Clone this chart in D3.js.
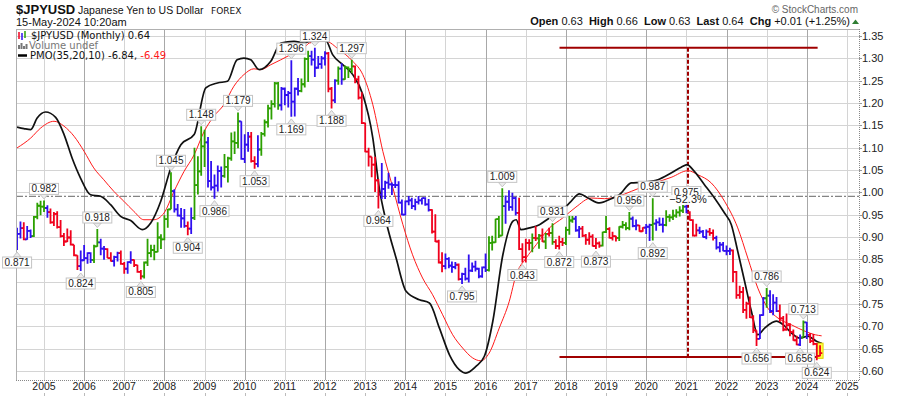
<!DOCTYPE html>
<html lang="en">
<head>
<meta charset="utf-8">
<title>$JPYUSD Monthly</title>
<script src="https://d3js.org/d3.v7.min.js"></script>
<style>
  body { margin: 0; background: #fff; }
  svg { display: block; font-family: "Liberation Sans", Arial, sans-serif; }
  .grid { stroke: #d4d4d4; stroke-width: 1; shape-rendering: crispEdges; }
  .grid.major { stroke: #a8a8a8; }
  .axisText { font-size: 11px; fill: #222; }
  .legend { font-family: "DejaVu Sans", sans-serif; font-size: 10px; }
</style>
</head>
<body>
<script>
// ---- data (JPYUSD, monthly bars from May 2004 to May 2024) ----
var firstMonth = new Date(2004, 4, 1);
var firstOpen = 0.905;

var highs = [
  0.921, 0.935, 0.933, 0.925, 0.917, 0.947, 0.977, 0.981,                                  // 2004 May-Dec
  0.982, 0.971, 0.964, 0.956, 0.958, 0.938, 0.909, 0.919, 0.915, 0.883, 0.859, 0.870,     // 2005
  0.882, 0.866, 0.866, 0.883, 0.918, 0.896, 0.880, 0.875, 0.866, 0.858, 0.867, 0.870,     // 2006
  0.844, 0.846, 0.868, 0.850, 0.838, 0.826, 0.845, 0.896, 0.883, 0.883, 0.933, 0.906,     // 2007
  0.949, 0.963, 1.045, 1.007, 0.974, 0.965, 0.963, 0.935, 0.966, 1.100, 1.081, 1.148,     // 2008
  1.140, 1.124, 1.070, 1.040, 1.060, 1.058, 1.086, 1.080, 1.134, 1.136, 1.179, 1.159,     // 2009
  1.130, 1.135, 1.135, 1.081, 1.128, 1.135, 1.163, 1.196, 1.206, 1.247, 1.247, 1.236,     // 2010
  1.235, 1.227, 1.296, 1.235, 1.256, 1.255, 1.302, 1.317, 1.317, 1.324, 1.305, 1.305,     // 2011
  1.316, 1.314, 1.236, 1.253, 1.282, 1.289, 1.284, 1.282, 1.297, 1.284, 1.261, 1.224,     // 2012
  1.156, 1.100, 1.080, 1.080, 1.030, 1.066, 1.026, 1.044, 1.022, 1.035, 1.025, 0.984,     // 2013
  0.982, 0.992, 0.988, 0.986, 0.992, 0.988, 0.989, 0.985, 0.962, 0.951, 0.894, 0.866,     // 2014
  0.863, 0.855, 0.845, 0.844, 0.841, 0.820, 0.831, 0.861, 0.843, 0.847, 0.831, 0.834,     // 2015
  0.863, 0.902, 0.903, 0.941, 0.947, 1.009, 0.993, 1.005, 0.999, 0.990, 0.988, 0.886,     // 2016
  0.896, 0.895, 0.908, 0.925, 0.907, 0.919, 0.909, 0.921, 0.931, 0.895, 0.903, 0.898,     // 2017
  0.923, 0.947, 0.947, 0.947, 0.925, 0.925, 0.907, 0.911, 0.906, 0.898, 0.890, 0.912,     // 2018
  0.947, 0.922, 0.912, 0.903, 0.924, 0.936, 0.933, 0.956, 0.946, 0.939, 0.927, 0.922,     // 2019
  0.929, 0.930, 0.987, 0.940, 0.944, 0.943, 0.960, 0.951, 0.961, 0.962, 0.969, 0.972,     // 2020
  0.975, 0.958, 0.940, 0.930, 0.923, 0.916, 0.917, 0.920, 0.917, 0.903, 0.889, 0.889,     // 2021
  0.881, 0.876, 0.872, 0.824, 0.791, 0.788, 0.755, 0.767, 0.725, 0.691, 0.727, 0.766,     // 2022
  0.786, 0.781, 0.772, 0.766, 0.749, 0.723, 0.729, 0.707, 0.693, 0.679, 0.682, 0.713,     // 2023
  0.710, 0.685, 0.683, 0.663, 0.658                                                        // 2024 Jan-May
];
var lows = [
  0.871, 0.897, 0.893, 0.894, 0.898, 0.900, 0.940, 0.949,
  0.956, 0.943, 0.930, 0.925, 0.919, 0.899, 0.880, 0.889, 0.881, 0.857, 0.826, 0.824,
  0.847, 0.840, 0.842, 0.842, 0.878, 0.859, 0.849, 0.853, 0.845, 0.834, 0.845, 0.838,
  0.818, 0.818, 0.840, 0.833, 0.820, 0.805, 0.807, 0.835, 0.855, 0.848, 0.866, 0.873,
  0.893, 0.921, 0.962, 0.955, 0.946, 0.921, 0.921, 0.904, 0.907, 0.938, 0.995, 1.037,
  1.057, 1.011, 1.004, 0.986, 1.002, 1.011, 1.033, 1.022, 1.071, 1.086, 1.099, 1.073,
  1.066, 1.091, 1.067, 1.053, 1.056, 1.082, 1.125, 1.145, 1.163, 1.190, 1.185, 1.183,
  1.195, 1.190, 1.169, 1.170, 1.217, 1.224, 1.235, 1.247, 1.284, 1.258, 1.277, 1.277,
  1.284, 1.224, 1.188, 1.200, 1.241, 1.241, 1.252, 1.256, 1.267, 1.244, 1.208, 1.153,
  1.090, 1.058, 1.034, 1.001, 0.964, 0.985, 0.985, 1.008, 0.994, 1.010, 0.975, 0.949,
  0.949, 0.971, 0.963, 0.960, 0.973, 0.973, 0.970, 0.957, 0.908, 0.889, 0.841, 0.821,
  0.828, 0.830, 0.820, 0.828, 0.803, 0.795, 0.803, 0.798, 0.822, 0.823, 0.808, 0.809,
  0.822, 0.823, 0.870, 0.887, 0.898, 0.903, 0.930, 0.959, 0.959, 0.948, 0.871, 0.843,
  0.843, 0.870, 0.866, 0.891, 0.874, 0.889, 0.873, 0.901, 0.883, 0.873, 0.872, 0.880,
  0.882, 0.905, 0.932, 0.912, 0.898, 0.900, 0.883, 0.883, 0.879, 0.873, 0.876, 0.879,
  0.909, 0.897, 0.892, 0.890, 0.891, 0.919, 0.915, 0.915, 0.922, 0.915, 0.912, 0.912,
  0.907, 0.891, 0.892, 0.914, 0.925, 0.910, 0.924, 0.934, 0.938, 0.943, 0.946, 0.954,
  0.953, 0.937, 0.901, 0.901, 0.907, 0.899, 0.895, 0.903, 0.892, 0.872, 0.866, 0.868,
  0.859, 0.860, 0.799, 0.762, 0.762, 0.730, 0.717, 0.719, 0.685, 0.656, 0.672, 0.724,
  0.742, 0.730, 0.725, 0.732, 0.710, 0.689, 0.690, 0.678, 0.668, 0.658, 0.656, 0.676,
  0.672, 0.663, 0.658, 0.624, 0.633
];
var closes = [
  0.907, 0.920, 0.895, 0.914, 0.902, 0.945, 0.970, 0.968,
  0.965, 0.956, 0.933, 0.952, 0.922, 0.902, 0.890, 0.899, 0.883, 0.859, 0.835, 0.848,
  0.853, 0.864, 0.849, 0.879, 0.888, 0.874, 0.873, 0.853, 0.846, 0.855, 0.864, 0.840,
  0.829, 0.844, 0.849, 0.837, 0.822, 0.812, 0.843, 0.864, 0.871, 0.867, 0.899, 0.895,
  0.940, 0.962, 1.003, 0.962, 0.948, 0.942, 0.925, 0.919, 0.943, 1.016, 1.047, 1.103,
  1.112, 1.025, 1.011, 1.015, 1.048, 1.037, 1.057, 1.076, 1.114, 1.111, 1.159, 1.075,
  1.107, 1.125, 1.070, 1.064, 1.096, 1.131, 1.157, 1.188, 1.198, 1.244, 1.195, 1.232,
  1.218, 1.222, 1.203, 1.232, 1.227, 1.242, 1.299, 1.305, 1.297, 1.279, 1.287, 1.300,
  1.311, 1.232, 1.206, 1.250, 1.277, 1.253, 1.280, 1.276, 1.282, 1.253, 1.212, 1.155,
  1.091, 1.080, 1.062, 1.027, 0.995, 1.008, 1.022, 1.018, 1.017, 1.016, 0.977, 0.950,
  0.980, 0.982, 0.969, 0.978, 0.982, 0.987, 0.973, 0.961, 0.912, 0.890, 0.843, 0.835,
  0.851, 0.836, 0.833, 0.838, 0.806, 0.817, 0.807, 0.825, 0.834, 0.829, 0.812, 0.832,
  0.826, 0.887, 0.888, 0.940, 0.903, 0.969, 0.979, 0.967, 0.987, 0.954, 0.873, 0.855,
  0.887, 0.887, 0.898, 0.897, 0.903, 0.890, 0.907, 0.909, 0.889, 0.880, 0.889, 0.887,
  0.916, 0.937, 0.941, 0.915, 0.919, 0.903, 0.894, 0.901, 0.880, 0.886, 0.881, 0.911,
  0.918, 0.898, 0.902, 0.898, 0.923, 0.927, 0.920, 0.941, 0.925, 0.926, 0.913, 0.921,
  0.923, 0.927, 0.930, 0.933, 0.928, 0.927, 0.945, 0.944, 0.948, 0.955, 0.959, 0.968,
  0.955, 0.938, 0.903, 0.915, 0.912, 0.900, 0.912, 0.909, 0.898, 0.877, 0.883, 0.869,
  0.869, 0.870, 0.822, 0.770, 0.777, 0.737, 0.751, 0.720, 0.691, 0.672, 0.725, 0.763,
  0.769, 0.734, 0.753, 0.734, 0.718, 0.693, 0.703, 0.687, 0.669, 0.659, 0.675, 0.709,
  0.681, 0.667, 0.661, 0.634, 0.640
];
// bar colour (g = green, r = red, b = blue), one letter per month
var impulse =
  "bbrbbggg" +
  "gbrrrrrrrrrb" + "bbbggbbrrbbr" + "rbbrrrgggggg" + "gggbbbbrbggg" +
  "gbbbbbgggggb" + "bbrrbggggggb" + "bbbbbgggbbbb" + "brrbgbgggrrr" +
  "rrrrrbbbbbbb" + "bbbbbbbbrrrr" + "bbbbrbbbbbbb" + "bgggggbbbbrr" +
  "rrgrgrgrgrrr" + "gggbbrrrrrrg" + "grrrggggbbrr" + "bbgbbbgggggg" +
  "brrrbbbrrbbb" + "bbrrrrrrrrbb" + "gbbbrrrrrrbg" + "brrrr";

// swing high / low labels: [month, which end of the bar]
var swings = [
  ["2004-05", "low"], ["2005-01", "high"], ["2005-12", "low"], ["2006-05", "high"],
  ["2007-06", "low"], ["2008-03", "high"], ["2008-08", "low"], ["2008-12", "high"],
  ["2009-04", "low"], ["2009-11", "high"], ["2010-04", "low"], ["2011-03", "high"],
  ["2011-03", "low"], ["2011-10", "high"], ["2012-03", "low"], ["2012-09", "high"],
  ["2013-05", "low"], ["2015-06", "low"], ["2016-06", "high"], ["2016-12", "low"],
  ["2017-09", "high"], ["2017-11", "low"], ["2018-10", "low"], ["2019-08", "high"],
  ["2020-03", "high"], ["2020-03", "low"], ["2021-01", "high"], ["2022-10", "low"],
  ["2023-01", "high"], ["2023-11", "low"], ["2023-12", "high"], ["2024-04", "low"]
];

// PMO(35,20,10) and its signal line (decimal years)
var pmoDates = [2004.33, 2004.5, 2004.67, 2004.83, 2005.04, 2005.29, 2005.5, 2005.7, 2005.91, 2006.16,
  2006.41, 2006.66, 2006.91, 2007.16, 2007.45, 2007.66, 2007.91, 2008.16, 2008.41, 2008.74,
  2009.03, 2009.32, 2009.57, 2009.81, 2009.98, 2010.15, 2010.36, 2010.65, 2010.9, 2011.23,
  2011.48, 2011.61, 2012.02, 2012.19, 2012.44, 2012.69, 2012.94, 2013.19, 2013.35, 2013.52,
  2013.77, 2014.02, 2014.35, 2014.6, 2014.85, 2015.1, 2015.35, 2015.51, 2015.76, 2015.97,
  2016.18, 2016.43, 2016.68, 2016.76, 2016.88, 2017.09, 2017.34, 2017.59, 2017.84, 2018.09,
  2018.34, 2018.55, 2018.84, 2019.13, 2019.33, 2019.63, 2019.88, 2020.29, 2020.62, 2020.87,
  2021.02, 2021.16, 2021.45, 2021.7, 2021.95, 2022.12, 2022.28, 2022.45, 2022.62, 2022.78,
  2022.95, 2023.12, 2023.24, 2023.41, 2023.62, 2023.82, 2024.03, 2024.24, 2024.37];
var pmoValues = [3.22, 3.15, 3.1, 3.64, 3.92, 3.67, 2.87, 1.78, 0.85, 0.07,
  0.0, -0.39, -0.93, -1.13, -1.55, -1.24, -0.23, 1.32, 2.4, 2.87,
  5.04, 5.27, 5.35, 6.35, 6.43, 6.35, 5.89, 6.28, 7.13, 7.21,
  7.13, 7.2, 7.24, 6.59, 6.12, 5.66, 4.73, 2.71, 0.39, -1.16,
  -2.87, -4.42, -4.81, -4.96, -6.13, -7.37, -8.07, -8.22, -7.91, -7.44,
  -5.81, -2.72, -1.16, -1.09, -1.55, -1.47, -1.32, -1.01, -0.78, -0.31,
  0.11, -0.08, -0.31, -0.11, 0.07, 0.62, 0.65, 0.77, 1.08, 1.35,
  1.47, 1.24, 0.54, -0.08, -0.78, -1.32, -2.56, -3.95, -5.35, -6.44,
  -6.13, -5.89, -5.81, -5.97, -6.36, -6.59, -6.51, -6.74, -6.84];
var signalDates = [2004.33, 2004.67, 2004.92, 2005.25, 2005.5, 2005.75, 2006.0, 2006.24, 2006.49, 2006.74,
  2006.99, 2007.24, 2007.49, 2007.74, 2007.99, 2008.24, 2008.49, 2008.74, 2008.99, 2009.23,
  2009.48, 2009.73, 2009.98, 2010.23, 2010.4, 2010.65, 2010.9, 2011.23, 2011.48, 2011.61,
  2012.02, 2012.35, 2012.69, 2012.94, 2013.19, 2013.44, 2013.69, 2013.94, 2014.18, 2014.43,
  2014.68, 2014.93, 2015.18, 2015.43, 2015.68, 2015.88, 2016.09, 2016.34, 2016.59, 2016.76,
  2017.01, 2017.26, 2017.59, 2017.92, 2018.25, 2018.63, 2018.96, 2019.3, 2019.63, 2019.96,
  2020.29, 2020.62, 2021.04, 2021.29, 2021.62, 2021.95, 2022.28, 2022.53, 2022.78, 2023.03,
  2023.28, 2023.61, 2023.96, 2024.21, 2024.37];
var signalValues = [2.25, 2.71, 3.18, 3.49, 3.26, 2.79, 2.09, 1.32, 0.77, 0.23,
  -0.23, -0.7, -1.09, -1.09, -0.78, 0.23, 1.16, 1.93, 3.02, 3.72,
  4.26, 5.12, 5.66, 5.93, 5.89, 6.12, 6.35, 6.67, 6.9, 7.13,
  7.21, 6.82, 6.28, 5.66, 4.26, 2.09, 0.39, -1.32, -2.72, -3.8,
  -4.58, -5.51, -6.44, -7.06, -7.52, -7.65, -7.29, -6.13, -4.88, -3.65,
  -2.87, -2.25, -1.47, -1.01, -0.5, -0.08, -0.11, 0.0, 0.23, 0.47,
  0.67, 0.88, 1.19, 1.0, 0.62, -0.23, -1.47, -2.87, -4.27, -5.2,
  -5.66, -5.97, -6.28, -6.44, -6.49];

// percentage measure drawn on the chart
var measureFrom = 1.324, measureTo = 0.6315;
var measureSpan = [2017.84, 2024.27], measureAt = 2021.04;

var priceTicks = [0.60, 0.65, 0.70, 0.75, 0.80, 0.85, 0.90, 0.95, 1.00, 1.05, 1.10, 1.15, 1.20, 1.25, 1.30, 1.35];
var yearTicks = d3.range(2005, 2026);

// ---- chart ----
var W = 900, H = 396;
var pLeft = 16, pRight = 859, pTop = 29, pBottom = 380;
var colors = { g: "#2ca000", r: "#f0001c", b: "#3010f0" };

var svg = d3.select("body").append("svg").attr("width", W).attr("height", H);

var x = d3.scaleTime().domain([new Date(2005, 0, 1), new Date(2025, 0, 1)]).range([44, 847]);
var y = d3.scaleLinear().domain([0.58, 1.3657]).range([pBottom, pTop]);
var yPmo = d3.scaleLinear().domain([-8.544, 7.781]).range([pBottom, pTop]);

function decDate(v) {
  var yr = Math.floor(v), a = new Date(yr, 0, 1), b = new Date(yr + 1, 0, 1);
  return new Date(+a + (v - yr) * (b - a));
}

var bars = highs.map(function(h, i) {
  return {
    date: d3.timeMonth.offset(firstMonth, i),
    open: i === 0 ? firstOpen : closes[i - 1],
    high: h, low: lows[i], close: closes[i],
    color: colors[impulse[i]]
  };
});
var fmtMonth = d3.timeFormat("%Y-%m");

// grid
var grid = svg.append("g");
grid.selectAll(".h").data(priceTicks).enter().append("line")
  .attr("class", "grid")
  .attr("x1", pLeft).attr("x2", pRight)
  .attr("y1", function(d) { return Math.round(y(d)) + 0.5; })
  .attr("y2", function(d) { return Math.round(y(d)) + 0.5; });
grid.selectAll(".v").data(yearTicks).enter().append("line")
  .attr("class", function(d) { return d % 2 === 0 ? "grid major" : "grid"; })
  .attr("x1", function(d) { return Math.round(x(new Date(d, 0, 1))) + 0.5; })
  .attr("x2", function(d) { return Math.round(x(new Date(d, 0, 1))) + 0.5; })
  .attr("y1", pTop).attr("y2", pBottom);

// frame
svg.append("line").attr("x1", pLeft).attr("x2", pRight).attr("y1", pTop + 0.5).attr("y2", pTop + 0.5)
  .attr("stroke", "#b0b0b0");
svg.append("line").attr("x1", pLeft + 0.5).attr("x2", pLeft + 0.5).attr("y1", pTop).attr("y2", pBottom)
  .attr("stroke", "#b0b0b0");
svg.append("line").attr("x1", pRight + 0.5).attr("x2", pRight + 0.5).attr("y1", pTop).attr("y2", pBottom)
  .attr("stroke", "#888").attr("stroke-dasharray", "1,1");
svg.append("line").attr("x1", pLeft).attr("x2", pRight + 1).attr("y1", pBottom + 0.5).attr("y2", pBottom + 0.5)
  .attr("stroke", "#888").attr("stroke-dasharray", "1,1");

// right axis labels
svg.selectAll(".ptick").data(priceTicks).enter().append("line")
  .attr("x1", pRight).attr("x2", pRight + 3)
  .attr("y1", function(d) { return Math.round(y(d)) + 0.5; })
  .attr("y2", function(d) { return Math.round(y(d)) + 0.5; })
  .attr("stroke", "#999");
svg.selectAll(".plabel").data(priceTicks).enter().append("text")
  .attr("class", "axisText")
  .attr("x", pRight + 3).attr("y", function(d) { return y(d) + 4; })
  .text(function(d) { return d3.format(".2f")(d); });

// bottom year labels
svg.selectAll(".ylabel").data(yearTicks).enter().append("text")
  .attr("class", "axisText").attr("text-anchor", "middle")
  .style("font-size", "10.5px")
  .attr("x", function(d) { return x(new Date(d, 0, 1)); }).attr("y", 390)
  .text(function(d) { return d; });
svg.selectAll(".ytick").data(yearTicks).enter().append("line")
  .attr("x1", function(d) { return Math.round(x(new Date(d, 0, 1))) + 0.5; })
  .attr("x2", function(d) { return Math.round(x(new Date(d, 0, 1))) + 0.5; })
  .attr("y1", 393).attr("y2", 396).attr("stroke", "#bbb");

// clipped plot
svg.append("clipPath").attr("id", "plot").append("rect")
  .attr("x", pLeft + 1).attr("y", pTop + 1).attr("width", pRight - pLeft - 1).attr("height", pBottom - pTop - 1);
var plot = svg.append("g").attr("clip-path", "url(#plot)");

// PMO zero line
plot.append("line").attr("x1", pLeft).attr("x2", pRight)
  .attr("y1", yPmo(0)).attr("y2", yPmo(0))
  .attr("stroke", "#666").attr("stroke-dasharray", "7,2,2,2");

// measure lines
plot.append("g").selectAll("line").data([measureFrom, measureTo]).enter().append("line")
  .attr("x1", x(decDate(measureSpan[0]))).attr("x2", x(decDate(measureSpan[1])))
  .attr("y1", function(d) { return y(d); }).attr("y2", function(d) { return y(d); })
  .attr("stroke", "#a00000").attr("stroke-width", 2);
plot.append("line")
  .attr("x1", x(decDate(measureAt))).attr("x2", x(decDate(measureAt)))
  .attr("y1", y(measureFrom)).attr("y2", y(measureTo))
  .attr("stroke", "#a00000").attr("stroke-width", 2).attr("stroke-dasharray", "4,2");

// PMO lines
var pmoLine = d3.line()
  .x(function(d) { return x(decDate(d[0])); })
  .y(function(d) { return yPmo(d[1]); })
  .curve(d3.curveMonotoneX);
plot.append("path").datum(d3.zip(signalDates, signalValues))
  .attr("d", pmoLine).attr("fill", "none").attr("stroke", "#ff1a1a").attr("stroke-width", 1);
plot.append("path").datum(d3.zip(pmoDates, pmoValues))
  .attr("d", pmoLine).attr("fill", "none").attr("stroke", "#111").attr("stroke-width", 1.7);

// last bar highlight
var last = bars[bars.length - 1];
plot.append("rect")
  .attr("x", x(last.date) - 3).attr("width", 6)
  .attr("y", y(last.high) - 2).attr("height", y(last.low) - y(last.high) + 4)
  .attr("fill", "#ffff40").attr("stroke", "#e0d000");

// OHLC bars
plot.append("g").selectAll("path").data(bars).enter().append("path")
  .attr("d", function(d) {
    var cx = x(d.date);
    return "M" + cx + "," + y(d.high) + "V" + y(d.low) +
      "M" + (cx - 2.2) + "," + y(d.open) + "H" + cx +
      "M" + cx + "," + y(d.close) + "H" + (cx + 2.2);
  })
  .attr("fill", "none").attr("stroke", function(d) { return d.color; }).attr("stroke-width", 1.8);

// swing labels (not clipped, the first one hangs over the left edge)
var byMonth = {};
bars.forEach(function(d) { byMonth[fmtMonth(d.date)] = d; });
var labelG = svg.append("g");
swings.forEach(function(s) {
  var d = byMonth[s[0]], cx = x(d.date), v = d[s[1]], isHigh = s[1] === "high";
  var g = labelG.append("g");
  var t = g.append("text").attr("x", cx).attr("text-anchor", "middle")
    .style("font-size", "10px").attr("fill", "#222").text(d3.format(".3f")(v));
  var tw = t.node().getComputedTextLength() + 4, bh = 11;
  var boxTop = isHigh ? y(v) - 6 - bh : y(v) + 7;
  var tip = isHigh ? y(v) - 1.5 : y(v) + 2;
  var base = isHigh ? boxTop + bh : boxTop;
  g.insert("path", "text")
    .attr("d", "M" + (cx - 4) + "," + base + "L" + cx + "," + tip + "L" + (cx + 4) + "," + base + "Z")
    .attr("fill", "#ececec").attr("stroke", "#c4c4c4");
  g.insert("rect", "text")
    .attr("x", cx - tw / 2).attr("y", boxTop).attr("width", tw).attr("height", bh)
    .attr("fill", "#fff").attr("stroke", "#c4c4c4");
  t.attr("y", boxTop + 9);
});

// measure text
var pct = d3.format(".1%")(measureTo / measureFrom - 1);
var mx = x(decDate(measureAt));
var mbg = svg.append("rect");
var mt = svg.append("text").attr("x", mx).attr("y", 203)
  .attr("text-anchor", "middle").style("font-size", "11px").attr("fill", "#222").text(pct);
var mw = mt.node().getComputedTextLength();
mbg.attr("x", mx - mw / 2 - 1).attr("y", 195).attr("width", mw + 2).attr("height", 10)
  .attr("fill", "#fff").attr("opacity", 0.9);

// legend
var lg = svg.append("g").attr("class", "legend");
[["#f0001c", 19, 32, 39], ["#3010f0", 22, 33, 40], ["#2ca000", 25, 31, 38]].forEach(function(a) {
  lg.append("line").attr("x1", a[1]).attr("x2", a[1]).attr("y1", a[2]).attr("y2", a[3])
    .attr("stroke", a[0]).attr("stroke-width", 1.5);
});
lg.append("text").attr("x", 31).attr("y", 39).attr("fill", "#111").text("$JPYUSD (Monthly) " + d3.format(".2f")(last.close));
[[19, 45], [21.5, 43], [24, 46], [26.5, 44]].forEach(function(a) {
  lg.append("rect").attr("x", a[0] - 1).attr("y", a[1]).attr("width", 2).attr("height", 49 - a[1]).attr("fill", "#777");
});
lg.append("text").attr("x", 29).attr("y", 49).attr("fill", "#777").text("Volume undef");
lg.append("line").attr("x1", 18).attr("x2", 27).attr("y1", 55.5).attr("y2", 55.5).attr("stroke", "#000").attr("stroke-width", 2.5);
var pt = lg.append("text").attr("x", 30).attr("y", 59).attr("fill", "#111");
pt.append("tspan").text("PMO(35,20,10) " + pmoValues[pmoValues.length - 1] + ", ");
pt.append("tspan").attr("fill", "#ff1a1a").text(signalValues[signalValues.length - 1]);

// header
var hd = svg.append("g");
hd.append("text").attr("x", 16).attr("y", 14).style("font-size", "13px").style("font-weight", "bold")
  .attr("fill", "#111").text("$JPYUSD");
hd.append("text").attr("x", 78).attr("y", 14).style("font-size", "10.5px").attr("fill", "#111")
  .text("Japanese Yen to US Dollar");
hd.append("text").attr("x", 211).attr("y", 14).style("font-size", "9px")
  .style("font-family", "DejaVu Sans, sans-serif").attr("fill", "#111").text("FOREX");
hd.append("text").attr("x", 16).attr("y", 26).style("font-size", "11px").attr("fill", "#111")
  .text("15-May-2024 10:20am");
hd.append("text").attr("x", 858).attr("y", 13).attr("text-anchor", "end").style("font-size", "10px")
  .attr("fill", "#666").text("\u00a9 StockCharts.com");
var info = hd.append("text").attr("x", 850).attr("y", 25).attr("text-anchor", "end")
  .style("font-size", "11px").attr("fill", "#111").style("white-space", "pre");
[["Open", " 0.63  "], ["High", " 0.66  "], ["Low", " 0.63  "], ["Last", " 0.64  "], ["Chg", " +0.01 (+1.25%)"]]
  .forEach(function(p) {
    info.append("tspan").style("font-weight", "bold").text(p[0]);
    info.append("tspan").text(p[1]);
  });
hd.append("path").attr("d", "M852,24L855.5,19.5L859,24Z").attr("fill", "#2e7d32");
</script>
</body>
</html>
